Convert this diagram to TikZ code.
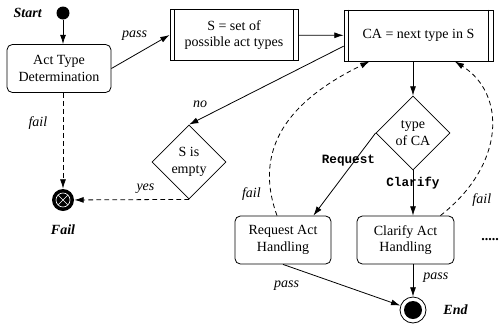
\documentclass[tikz,border=0pt]{standalone}
\usepackage{fontspec}
\setmainfont{Liberation Serif}
\setmonofont{Liberation Mono}
\usetikzlibrary{shapes.geometric,arrows.meta}

\begin{document}
\fontsize{10.5}{12.5}\selectfont
\begin{tikzpicture}[
					x = 0.75pt,
					y = -0.75pt,
					line width = 0.6pt,
					>={Latex[length = 7pt, width = 4.5pt]},
					action/.style = {
						shape = rectangle,
						draw,
						rounded corners = 4pt,
						align = center,
						minimum height = 36pt,
					},
					process/.style = {
						shape = rectangle,
						draw,
						align = center,
						minimum height = 38.25pt,
					},
					decision/.style = {
						shape = diamond,
						draw,
						aspect = 1,
						align = center,
						inner sep = 0pt,
						minimum width = 55.5pt,
						minimum height = 55.5pt,
					},
					flow/.style = {->},
					failflow/.style = {->, dash pattern = on 3.5pt off 2.5pt},
					lbl/.style = {font = \itshape},
					code/.style = {font = \fontsize{9.5}{11}\selectfont\ttfamily\bfseries},
					term/.style = {font = \bfseries\itshape},
			]
				\useasboundingbox (0, 0) rectangle (504, 326);

				\draw (63, 13) node (start) [circle, fill, inner sep = 0pt, minimum size = 9.75pt, label = {[term, label distance = 7pt]left:Start}] {};
				\draw (59, 68.5) node (act) [action, minimum width = 78pt] {Act Type\\Determination};
				\draw (234, 35) node (set) [process, minimum width = 96pt] {S = set of\\possible act types};
				\draw (418.5, 35.5) node (next) [process, minimum width = 111.75pt] {CA = next type in S};
				\draw (413, 133) node (typeca) [decision] {type\\of CA};
				\draw (189, 162) node (empty) [decision] {S is\\empty};
				\draw (63, 200) node (fail) [circle, fill, inner sep = 0pt, minimum size = 16.5pt,
					path picture = {
						\draw [white, line width = 0.5pt] (path picture bounding box.center) circle (5.25pt)
							+(-3.7pt, -3.7pt) -- +(3.7pt, 3.7pt)
							+(-3.7pt, 3.7pt) -- +(3.7pt, -3.7pt);
					},
					label = {[term, label distance = 6pt]below:Fail}] {};
				\draw (283, 240) node (request) [action, minimum width = 72pt] {Request Act\\Handling};
				\draw (405.5, 240) node (clarify) [action, minimum width = 72.75pt] {Clarify Act\\Handling};
				\draw (413, 310) node (end) [circle, draw, inner sep = 0pt, minimum size = 19.5pt,
					path picture = {
						\fill (path picture bounding box.center) circle (6.75pt);
					},
					label = {[term, label distance = 9pt]right:End}] {};
				\draw (490, 240) node (more) [font = \bfseries] {.....};

				\foreach \blk in {set, next} {
					\draw ([xshift = 3.75pt]\blk.north west) -- ([xshift = 3.75pt]\blk.south west);
					\draw ([xshift = -3.75pt]\blk.north east) -- ([xshift = -3.75pt]\blk.south east);
				}

				\draw [flow] (start) -- (start |- act.north);
				\draw [flow] (act.east) -- node [lbl, pos = 0.7, above left] {pass} (set.west);
				\draw [flow] (set) -- (next);
				\draw [flow] ([yshift = -8pt]next.west) -- node [lbl, pos = 0.85, above left] {no} (empty.north);
				\draw [flow] (next.south -| typeca.north) -- (typeca.north);
				\draw [flow] (typeca.west) -- node [code, pos = 0.33, xshift = -5pt] {Request} ([xshift = -13.5pt]request.north east);
				\draw [flow] (typeca.south) -- node [code, pos = 0.28] {Clarify} (typeca.south |- clarify.north);
				\draw [failflow] (fail |- act.south) -- node [lbl, pos = 0.32, left = 8pt] {fail} (fail);
				\draw [failflow] (empty.south) -- node [lbl, pos = 0.38, above = 1pt] {yes} (fail);
				\draw [failflow] ([xshift = -4.5pt]request.north) to [out = 110, in = 206, looseness = 1.12] node [lbl, pos = 0.1, left = 4pt] {fail} ([xshift = 19.5pt]next.south west);
				\draw [failflow] ([xshift = -10.5pt]clarify.north east) to [out = 38, in = -32, out looseness = 1.37, in looseness = 1] node [lbl, pos = 0.1, right = 7pt] {fail} ([xshift = -29pt]next.south east);
				\draw [flow] (request.south) -- node [lbl, pos = 0.03, below = 8pt] {pass} (end);
				\draw [flow] (end.north |- clarify.south) -- node [lbl, pos = 0.42, right = 4pt] {pass} (end);
			\end{tikzpicture}
\end{document}
